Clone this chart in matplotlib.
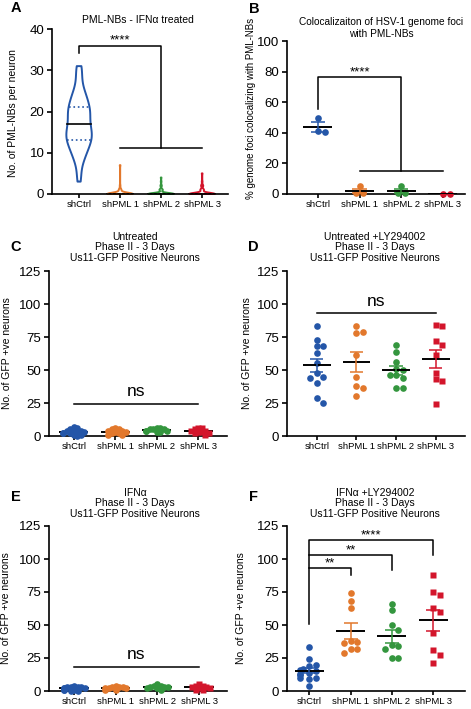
import numpy as np
import matplotlib
matplotlib.use('Agg')
import matplotlib.pyplot as plt

plt.rcParams['font.family'] = ['Liberation Sans', 'DejaVu Sans']
plt.rcParams['axes.linewidth'] = 1.2

W, H = 471, 709

groups = ['shCtrl', 'shPML 1', 'shPML 2', 'shPML 3']
colors = ['#2456a8', '#e2782c', '#34963e', '#d3152b']

# A: PML-NBs per neuron (value -> number of neurons)
a_values = [
    [3, 4, 5, 7, 8, 9, 10, 11, 12, 13, 14, 15, 16, 17, 18, 19, 20, 21, 22, 23, 24, 25, 26, 27, 28, 29, 30, 31],
    [0, 1, 2, 7],
    [0, 1, 2, 3, 4],
    [0, 1, 2, 3, 5],
]
a_counts = [
    [1, 1, 1, 1, 2, 2, 3, 3, 4, 5, 5, 5, 4, 4, 3, 4, 5, 4, 3, 3, 3, 2, 1, 1, 1, 1, 1, 2],
    [40, 4, 1, 1],
    [38, 5, 2, 1, 1],
    [36, 5, 3, 1, 1],
]

# B: % genome foci colocalizing with PML-NBs
b_ctrl = [50, 40.5, 41]
b_pml1 = [5, 0.5, 0.5]
b_pml2 = [5, 0.5, 0.5]
b_pml3 = [0, 0]

# C: untreated
c_ctrl = [0, 1, 1, 2, 2, 2, 3, 3, 4, 4, 4, 5, 6, 7]
c_pml1 = [1, 1, 2, 2, 3, 3, 4, 4, 5, 5, 6]
c_pml2 = [3, 3, 4, 4, 4, 5, 5, 5, 6, 6]
c_pml3 = [1, 2, 2, 3, 3, 4, 4, 5, 6, 6]

# D: untreated +LY294002
d_ctrl = [83, 73, 68, 68, 63, 55, 48, 45, 44, 40, 29, 25]
d_pml1 = [83, 79, 78, 61, 45, 38, 36, 30]
d_pml2 = [69, 64, 56, 50, 51, 46, 46, 44, 36, 36]
d_pml3 = [84, 83, 72, 69, 61, 48, 43, 42, 24]

# E: IFNa
e_ctrl = [0, 0, 1, 1, 1, 2, 2, 2, 3, 3, 3, 3, 4]
e_pml1 = [1, 1, 2, 2, 2, 3, 3, 3, 4]
e_pml2 = [1, 2, 2, 3, 3, 3, 4, 4, 5]
e_pml3 = [1, 1, 2, 2, 3, 3, 4, 4, 5]

# F: IFNa +LY294002
f_ctrl = [33, 24, 20, 19, 17, 16, 15, 14, 13, 12, 10, 10, 9, 4]
f_pml1 = [74, 68, 63, 38, 37, 36, 32, 32, 29]
f_pml2 = [66, 61, 50, 46, 35, 34, 32, 25, 25]
f_pml3 = [88, 75, 73, 63, 60, 44, 31, 27, 21]


def px_box(l, t, r, b):
    return [l / W, 1 - b / H, (r - l) / W, (b - t) / H]


def fig_text(x, y, s, **kw):
    fig.text(x / W, 1 - y / H, s, **kw)


def style_axes(ax, xlim, ylim, yticks):
    ax.spines['top'].set_visible(False)
    ax.spines['right'].set_visible(False)
    ax.set_xlim(xlim)
    ax.set_ylim(ylim)
    ax.set_xticks(range(4))
    ax.set_xticklabels(groups, fontsize=6.8)
    ax.set_yticks(yticks)
    ax.tick_params(axis='y', labelsize=9.5, length=3.5, width=1.2, pad=2)
    ax.tick_params(axis='x', length=3, width=1.2, pad=1.5)


def swarm(ax, x0, vals, gap, max_half=None):
    disp = ax.transData.transform([(x0, v) for v in vals])
    xc = disp[0, 0]
    inv = ax.transData.inverted()
    placed = []
    xs = np.zeros(len(vals))
    for k in np.argsort(vals)[::-1]:
        y = disp[k, 1]
        best = 0
        for step in range(200):
            off = ((step + 1) // 2) * gap / 2 * (1 if step % 2 else -1)
            if max_half is not None and abs(off) > max_half:
                break
            best = off
            if all(np.hypot(px - xc - off, py - y) >= gap * 0.999 for px, py in placed):
                break
        placed.append((xc + best, y))
        xs[k] = inv.transform((xc + best, y))[0]
    return xs


def dot_panel(ax, data, markers, gap, means_front=True, max_half=None):
    z = 4 if means_front else 2
    for i, vals in enumerate(data):
        vals = np.asarray(vals, dtype=float)
        xs = swarm(ax, i, vals, gap, max_half)
        ms = 4.8 if markers[i] == 'o' else 4.6
        ax.plot(xs, vals, ls='none', marker=markers[i], ms=ms, color=colors[i],
                mec='none', clip_on=False, zorder=3)
        m = vals.mean()
        sem = vals.std(ddof=1) / np.sqrt(len(vals)) if len(vals) > 1 else 0
        ax.hlines(m, i - 0.35, i + 0.35, color='k', lw=1.4, zorder=z)
        if sem > 0:
            ax.vlines(i, m - sem, m + sem, color=colors[i], lw=1.1, zorder=z)
            ax.hlines([m - sem, m + sem], i - 0.17, i + 0.17, color=colors[i], lw=1.1, zorder=z)


def bracket(ax, xs, ys):
    ax.plot(xs, ys, color='k', lw=1.1, clip_on=False, zorder=5)


def stars(ax, x, y, s):
    ax.text(x, y, s, ha='center', va='baseline', fontsize=9.5)


fig = plt.figure(figsize=(W / 100, H / 100), dpi=100)

# ---------------- A ----------------
ax = fig.add_axes(px_box(52, 29, 228, 194))
style_axes(ax, (-0.66, 3.63), (0, 40), [0, 10, 20, 30, 40])
a_data = [np.repeat(v, c) for v, c in zip(a_values, a_counts)]
parts = ax.violinplot(a_data, positions=range(4), widths=0.62, showextrema=False, bw_method=0.3)
for i, (body, c) in enumerate(zip(parts['bodies'], colors)):
    body.set_facecolor('none')
    body.set_edgecolor(c)
    body.set_linewidth(1.4)
    body.set_alpha(1)
    body.set_clip_on(False)
    verts = body.get_paths()[0].vertices
    right = verts[verts[:, 0] >= i]
    order = np.argsort(right[:, 1])
    q1, med, q3 = np.percentile(a_data[i], [25, 50, 75])
    for q, col, ls in [(q1, c, ':'), (q3, c, ':'), (med, 'k', '-')]:
        hw = np.interp(q, right[order, 1], right[order, 0]) - i
        if hw > 0.02:
            ax.plot([i - hw, i + hw], [q, q], color=col, ls=ls, lw=1.2, zorder=3)
bracket(ax, [0, 0, 2, 2], [34.2, 35.9, 35.9, 11.2])
bracket(ax, [1, 3], [11.2, 11.2])
stars(ax, 1, 36.6, '****')
fig_text(138, 20, 'PML-NBs - IFNα treated', ha='center', va='center', fontsize=7.5)
fig_text(13, 113, 'No. of PML-NBs per neuron', ha='center', va='center', rotation=90, fontsize=7.5)
fig_text(16, 8, 'A', ha='center', va='center', fontsize=10.5, fontweight='bold')

# ---------------- B ----------------
ax = fig.add_axes(px_box(287, 41, 465, 194))
style_axes(ax, (-0.74, 3.53), (0, 100), [0, 20, 40, 60, 80, 100])
dot_panel(ax, [b_ctrl, b_pml1, b_pml2, b_pml3], ['o', 'o', 'o', 'o'], 7)
bracket(ax, [0, 0, 2, 2], [55.5, 76.7, 76.7, 15])
bracket(ax, [1, 3], [15, 15])
stars(ax, 1, 77.8, '****')
fig_text(381, 28, 'Colocalizaiton of HSV-1 genome foci\nwith PML-NBs', ha='center', va='center',
         fontsize=7.3, linespacing=1.15)
fig_text(251, 108, '% genome foci colocalizing with PML-NBs', ha='center', va='center', rotation=90, fontsize=7)
fig_text(254, 9, 'B', ha='center', va='center', fontsize=10.5, fontweight='bold')

# ---------------- C ----------------
ax = fig.add_axes(px_box(49, 271, 227, 436))
style_axes(ax, (-0.6, 3.7), (0, 125), [0, 25, 50, 75, 100, 125])
dot_panel(ax, [c_ctrl, c_pml1, c_pml2, c_pml3], ['o', 'o', 'o', 's'], 3.5, means_front=False, max_half=11)
bracket(ax, [0, 3], [24.5, 24.5])
ax.text(1.5, 30, 'ns', ha='center', va='baseline', fontsize=12.5)
fig_text(135, 247.5, 'Untreated\nPhase II - 3 Days\nUs11-GFP Positive Neurons', ha='center', va='center',
         fontsize=7.5, linespacing=1.12)
fig_text(7, 353, 'No. of GFP +ve neurons', ha='center', va='center', rotation=90, fontsize=7.5)
fig_text(16, 247, 'C', ha='center', va='center', fontsize=10.5, fontweight='bold')

# ---------------- D ----------------
ax = fig.add_axes(px_box(287, 271, 465, 436))
style_axes(ax, (-0.75, 3.74), (0, 125), [0, 25, 50, 75, 100, 125])
dot_panel(ax, [d_ctrl, d_pml1, d_pml2, d_pml3], ['o', 'o', 'o', 's'], 6.5)
bracket(ax, [0, 3], [93, 93])
ax.text(1.5, 98.5, 'ns', ha='center', va='baseline', fontsize=12.5)
fig_text(375, 247.5, 'Untreated +LY294002\nPhase II - 3 Days\nUs11-GFP Positive Neurons', ha='center',
         va='center', fontsize=7.5, linespacing=1.12)
fig_text(247, 353, 'No. of GFP +ve neurons', ha='center', va='center', rotation=90, fontsize=7.5)
fig_text(253, 247, 'D', ha='center', va='center', fontsize=10.5, fontweight='bold')

# ---------------- E ----------------
ax = fig.add_axes(px_box(49, 526, 227, 691))
style_axes(ax, (-0.6, 3.67), (0, 125), [0, 25, 50, 75, 100, 125])
dot_panel(ax, [e_ctrl, e_pml1, e_pml2, e_pml3], ['o', 'o', 'o', 's'], 3.5, means_front=False, max_half=11)
bracket(ax, [0, 3], [18.2, 18.2])
ax.text(1.5, 24, 'ns', ha='center', va='baseline', fontsize=12.5)
fig_text(135, 503.5, 'IFNα\nPhase II - 3 Days\nUs11-GFP Positive Neurons', ha='center', va='center',
         fontsize=7.5, linespacing=1.12)
fig_text(6, 608, 'No. of GFP +ve neurons', ha='center', va='center', rotation=90, fontsize=7.5)
fig_text(16, 497, 'E', ha='center', va='center', fontsize=10.5, fontweight='bold')

# ---------------- F ----------------
ax = fig.add_axes(px_box(287, 526, 465, 691))
style_axes(ax, (-0.54, 3.77), (0, 125), [0, 25, 50, 75, 100, 125])
dot_panel(ax, [f_ctrl, f_pml1, f_pml2, f_pml3], ['o', 'o', 'o', 's'], 6.5, max_half=12)
bracket(ax, [0, 0, 3, 3], [50.6, 114.4, 114.4, 103.4])
bracket(ax, [0, 2, 2], [103, 103, 91.6])
bracket(ax, [0, 1, 1], [93.4, 93.4, 87.8])
stars(ax, 1.5, 115.5, '****')
stars(ax, 1, 104, '**')
stars(ax, 0.5, 94.4, '**')
fig_text(375, 503.5, 'IFNα +LY294002\nPhase II - 3 Days\nUs11-GFP Positive Neurons', ha='center',
         va='center', fontsize=7.5, linespacing=1.12)
fig_text(241, 608, 'No. of GFP +ve neurons', ha='center', va='center', rotation=90, fontsize=7.5)
fig_text(253, 497, 'F', ha='center', va='center', fontsize=10.5, fontweight='bold')

fig.savefig('out.png', dpi=100)
